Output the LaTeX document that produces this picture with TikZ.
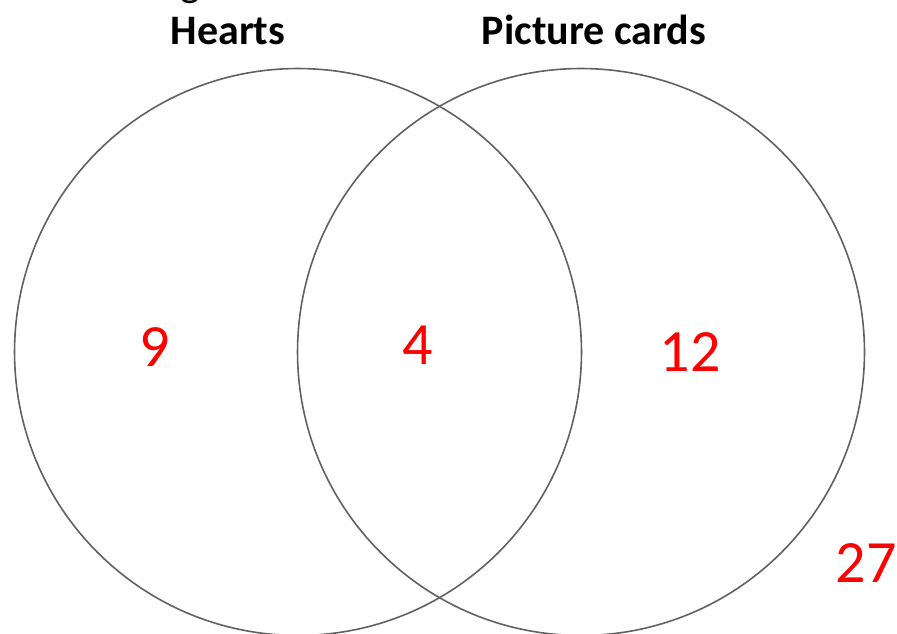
\documentclass[tikz,border=0pt]{standalone}
\usepackage{fontspec}
\setmainfont{Carlito}
\begin{document}
\begin{tikzpicture}[x=0.75pt, y=-0.75pt, every node/.style={inner sep=0pt},
    setname/.style={font=\fontsize{31.5}{36}\selectfont\bfseries, anchor=base},
    count/.style={font=\fontsize{45}{52}\selectfont, text=red}]
  \useasboundingbox (0,0) rectangle (897,634);
  \clip (0,0) rectangle (897,634);
  % the two sets
  \draw[black!62, line width=1.2pt] (298,352) circle (212.6pt);
  \draw[black!62, line width=1.2pt] (581,352) circle (212.6pt);
  \node[font=\fontsize{31.5}{36}\selectfont, anchor=base] (head) at (190,-3) {g};
  \node[setname] (hearts) at (228,45) {Hearts};
  \node[setname] (pics) at (594,45) {Picture cards};
  % counts
  \node[count] (onlyh) at (155,347) {9};
  \node[count] (both) at (418,345) {4};
  \node[count] (onlyp) at (690,352) {12};
  \node[count] (neither) at (866,563) {27};
\end{tikzpicture}
\end{document}
